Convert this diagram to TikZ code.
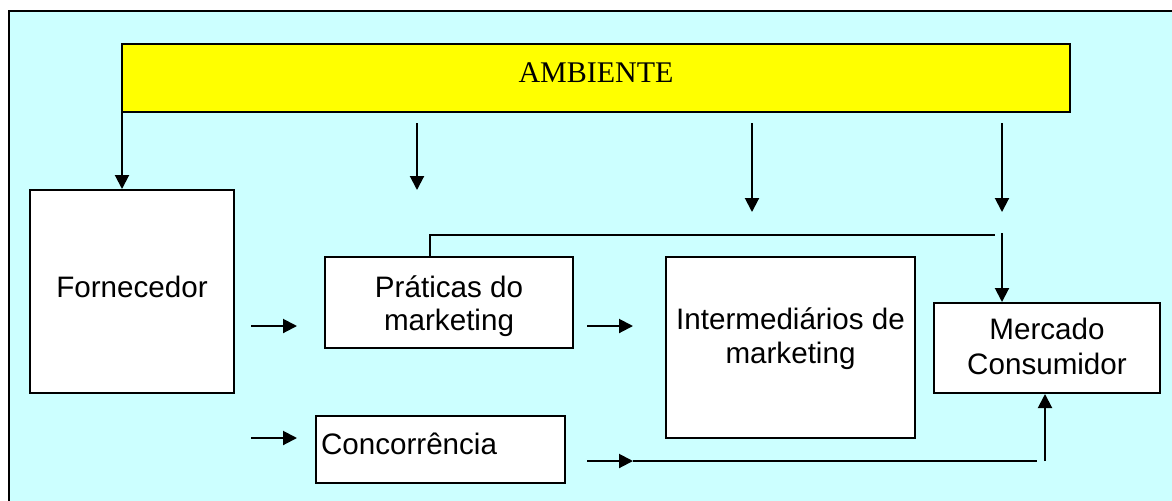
\documentclass[tikz,border=0pt]{standalone}
\usepackage{fontspec}
\setmainfont{Liberation Sans}
\newfontfamily\ambfont{Liberation Serif}
\usetikzlibrary{arrows.meta}
\definecolor{fundo}{HTML}{CCFFFF}
\definecolor{amarelo}{HTML}{FFFF00}

\begin{document}
\begin{tikzpicture}[x=0.5pt,y=-0.5pt,
    caixa/.style={draw,line width=1pt,fill=white,align=center,inner sep=0pt,
      font=\fontsize{14.8}{17}\selectfont},
    seta/.style={line width=1pt,-{Triangle[length=7pt,width=7pt]}}]
  \useasboundingbox (0,0) rectangle (1172,500);
  \clip (0,0) rectangle (1172,500);
  \draw[line width=1pt,fill=fundo] (9,11) rectangle (1190,520);

  % ambiente
  \node[draw,line width=1pt,fill=amarelo,minimum width=474pt,minimum height=34pt,
    inner sep=0pt,font=\ambfont\fontsize{15}{17}\selectfont,
    text height=9.9pt,text depth=5pt] (amb) at (596,78) {AMBIENTE};

  % caixas
  \node[caixa,minimum width=102pt,minimum height=101.5pt,text height=10.6pt,text depth=5pt]
    (forn) at (132,291.5) {Fornecedor};
  \node[caixa,minimum width=124pt,minimum height=45.5pt,text height=28pt,text depth=0pt,
    font=\fontsize{14.8}{16.5}\selectfont]
    (prat) at (449,302.5) {Práticas do\\marketing};
  \node[caixa,minimum width=124.5pt,minimum height=33.5pt,inner xsep=2.5pt,
    text width=119.5pt,align=left,text height=10.6pt,text depth=6.1pt]
    (conc) at (440.5,449.5) {Concorrência};
  \node[caixa,minimum width=124.5pt,minimum height=90.5pt,text height=27.6pt,text depth=12.1pt]
    (inter) at (790.5,347.5) {Intermediários de\\marketing};
  \node[caixa,minimum width=113pt,minimum height=45pt,text height=28.1pt,text depth=1.6pt,
    font=\fontsize{14.8}{17.5}\selectfont]
    (merc) at (1047,348) {Mercado\\Consumidor};

  % setas do ambiente
  \coordinate (e2) at (417,190);
  \coordinate (e3) at (752,212);
  \coordinate (e4) at (1002,212);
  \draw[seta] ([xshift=0.5pt,yshift=6pt]amb.south west) -- ([xshift=0.5pt]amb.south west |- forn.north);
  \draw[seta] ([yshift=-5pt]amb.south -| e2) -- (e2);
  \draw[seta] ([yshift=-5pt]amb.south -| e3) -- (e3);
  \draw[seta] ([yshift=-5pt]amb.south -| e4) -- (e4);

  % setas soltas
  \coordinate (f1) at (251,326); \coordinate (f2) at (297,326);
  \coordinate (g1) at (251,438); \coordinate (g2) at (297,438);
  \coordinate (h1) at (587,326); \coordinate (h2) at (633,326);
  \draw[seta] (f1) -- (f2);
  \draw[seta] (g1) -- (g2);
  \draw[seta] (h1) -- (h2);

  % ligacao praticas -> mercado
  \coordinate (p1) at (995,235);
  \coordinate (m1) at (1002,233);
  \draw[line width=1pt] (prat.north -| 430,0) |- (p1);
  \draw[seta] (m1) -- (m1 |- merc.north);

  % concorrencia -> mercado
  \coordinate (c1) at (587,461); \coordinate (c2) at (633,461);
  \coordinate (c3) at (1037,461); \coordinate (c4) at (1045,461);
  \draw[seta] (c1) -- (c2);
  \draw[line width=1pt] (c2) -- (c3);
  \draw[seta] (c4) -- (c4 |- merc.south);
\end{tikzpicture}
\end{document}
